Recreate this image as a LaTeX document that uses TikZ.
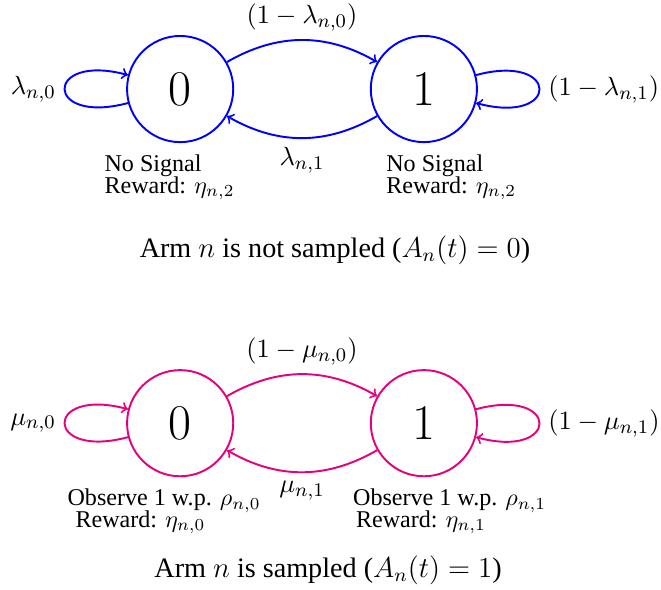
\documentclass[tikz,border=0pt]{standalone}
\usepackage[no-math]{fontspec}
\setmainfont{Liberation Serif}
\usetikzlibrary{positioning}
\definecolor{armblue}{RGB}{0,0,255}
\definecolor{armpink}{RGB}{229,0,126}
\newcommand{\notefont}{\fontsize{10pt}{8.8pt}\selectfont\lineskiplimit=-20pt\relax}

\begin{document}
\begin{tikzpicture}[
      st/.style={circle, draw, thick, minimum size=1.55cm, inner sep=0pt,
                 font=\fontsize{20.74pt}{24pt}\selectfont},
      tr/.style={->, thick},
      lab/.style={font=\fontsize{11pt}{13pt}\selectfont},
      note/.style={align=left, anchor=base west, inner sep=0pt, font=\notefont},
      caption/.style={font=\fontsize{11.7pt}{14pt}\selectfont},
    ]
      \useasboundingbox (-2.63,1.30) rectangle (7.02,-7.30);

      % arm not sampled
      \node[st, draw=armblue] (u0) at (0,0) {$0$};
      \node[st, draw=armblue, right=1.98cm of u0] (u1) {$1$};
      \node[note] (u0n) at ([shift={(-1.11,-1.518)}]u0) {No Signal\\Reward: $\eta_{n,2}$};
      \node[note] (u1n) at ([shift={(-0.555,-1.518)}]u1) {No Signal\\Reward: $\eta_{n,2}$};
      \node[caption] (ucap) at ([shift={(2.26,-2.35)}]u0) {Arm $n$ is not sampled ($A_n(t)=0$)};

      \draw[tr, draw=armblue] (u0) to[bend left] node[lab, above] {$(1-\lambda_{n,0})$} (u1);
      \draw[tr, draw=armblue] (u1) to[bend left] node[lab, below] {$\lambda_{n,1}$} (u0);
      \draw[tr, draw=armblue] (u0) to[loop left] node[lab, left] {$\lambda_{n,0}$} (u0);
      \draw[tr, draw=armblue] (u1) to[loop right] node[lab, right] {$(1-\lambda_{n,1})$} (u1);

      % arm sampled
      \node[st, draw=armpink, below=3.30cm of u0] (l0) {$0$};
      \node[st, draw=armpink, right=1.98cm of l0] (l1) {$1$};
      \node[note] (l0n) at ([shift={(-1.65,-1.518)}]l0) {Observe 1 w.p. $\rho_{n,0}$\\\hspace*{3.3pt}Reward: $\eta_{n,0}$};
      \node[note] (l1n) at ([shift={(-1.04,-1.518)}]l1) {Observe 1 w.p. $\rho_{n,1}$\\\hspace*{1.2pt}Reward: $\eta_{n,1}$};
      \node[caption] (lcap) at ([shift={(2.16,-2.146)}]l0) {Arm $n$ is sampled ($A_n(t)=1$)};

      \draw[tr, draw=armpink] (l0) to[bend left] node[lab, above] {$(1-\mu_{n,0})$} (l1);
      \draw[tr, draw=armpink] (l1) to[bend left] node[lab, below] {$\mu_{n,1}$} (l0);
      \draw[tr, draw=armpink] (l0) to[loop left] node[lab, left] {$\mu_{n,0}$} (l0);
      \draw[tr, draw=armpink] (l1) to[loop right] node[lab, right] {$(1-\mu_{n,1})$} (l1);
    \end{tikzpicture}
\end{document}
